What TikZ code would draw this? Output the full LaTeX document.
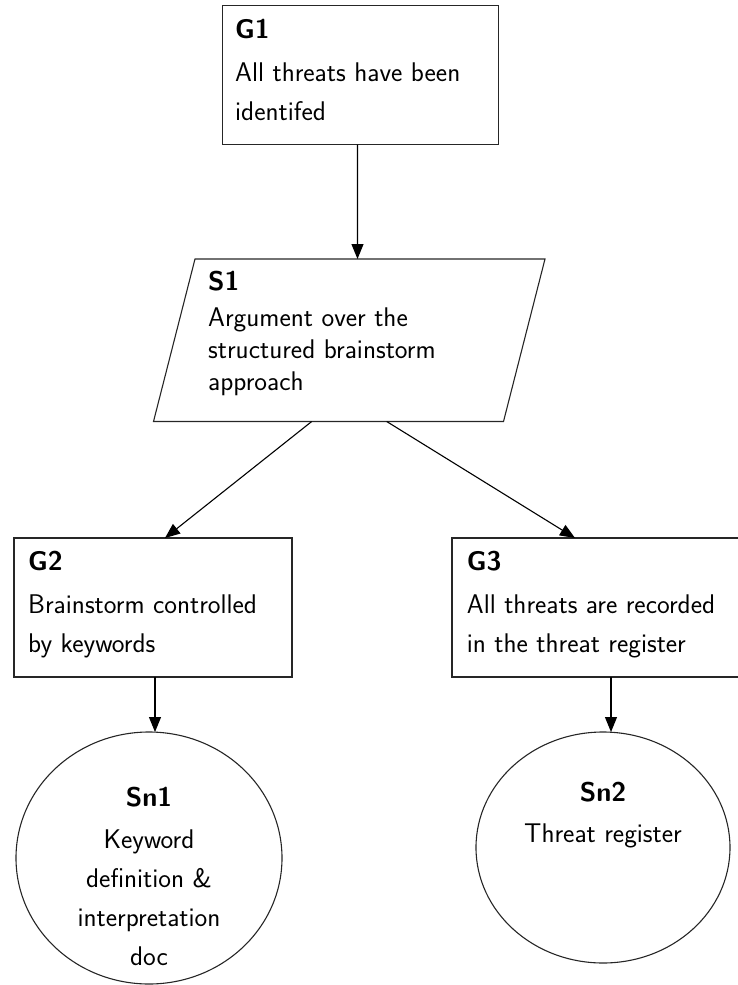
\documentclass[tikz,border=0pt]{standalone}
\usetikzlibrary{arrows.meta,shapes.geometric}
\begin{document}
\begin{tikzpicture}[x=1pt,y=-1pt,
  outline/.style={draw=black!85, line width=1.1pt, inner sep=0pt, outer sep=0pt},
  goal/.style={outline, rectangle, minimum height=139pt},
  strategy/.style={outline, rectangle, minimum width=350pt, minimum height=162.5pt, transform shape},
  solution/.style={outline, ellipse},
  link/.style={line width=1.1pt, -{Triangle[length=15pt,width=12pt]}},
  txt/.style={inner sep=0pt, font=\sffamily\fontsize{27}{39}\selectfont},
  stxt/.style={inner sep=0pt, font=\sffamily\fontsize{27}{32}\selectfont},
]
\useasboundingbox (0,0) rectangle (737,985);

% goals
\node[goal, minimum width=276pt] (G1) at (360.5,75) {};
\node[goal, minimum width=278pt] (G2) at (153,607.5) {};
\node[goal, minimum width=298pt] (G3) at (601,607.5) {};

% strategy: a slanted rectangle gives the parallelogram
\begin{scope}[shift={(349.25,340.25)}, xslant=0.2554]
  \node[strategy] (S1) at (0,0) {};
\end{scope}

% solutions
\node[solution, minimum width=266pt, minimum height=252pt] (Sn1) at (149,858) {};
\node[solution, minimum width=254pt, minimum height=231pt] (Sn2) at (603,847.5) {};

% texts
\node[txt, anchor=base west] (G1t) at (235,38.3)
  {\parbox[t]{260pt}{\raggedright\textbf{G1}\\[4pt]All threats have been\\identifed}};
\node[txt, anchor=base west] (G2t) at (28,570.7)
  {\parbox[t]{260pt}{\raggedright\textbf{G2}\\[3.5pt]Brainstorm controlled\\by keywords}};
\node[txt, anchor=base west] (G3t) at (466.7,570.7)
  {\parbox[t]{270pt}{\raggedright\textbf{G3}\\[3.5pt]All threats are recorded\\in the threat register}};
\node[stxt, anchor=base west] (S1t) at (208,290)
  {\parbox[t]{300pt}{\raggedright\textbf{S1}\\[4pt]Argument over the\\structured brainstorm\\approach}};
\node[txt, anchor=base] (Sn1t) at (149,806)
  {\parbox[t]{240pt}{\centering\textbf{Sn1}\\[3pt]Keyword\\definition \&\\interpretation\\doc}};
\node[txt, anchor=base] (Sn2t) at (603,801.7)
  {\parbox[t]{240pt}{\centering\textbf{Sn2}\\[2pt]Threat register}};

% connectors
\draw[link] ([xshift=-3pt]G1.south) -- ([xshift=-12.5pt]S1.north);
\draw[link] ([xshift=-16.8pt]S1.south) -- ([xshift=12pt]G2.north);
\draw[link] ([xshift=58.2pt]S1.south) -- ([xshift=-26pt]G3.north);
\draw[link] ([xshift=2pt]G2.south) -- ([xshift=6pt]Sn1.north);
\draw[link] ([xshift=10pt]G3.south) -- ([xshift=8pt]Sn2.north);
\end{tikzpicture}
\end{document}
